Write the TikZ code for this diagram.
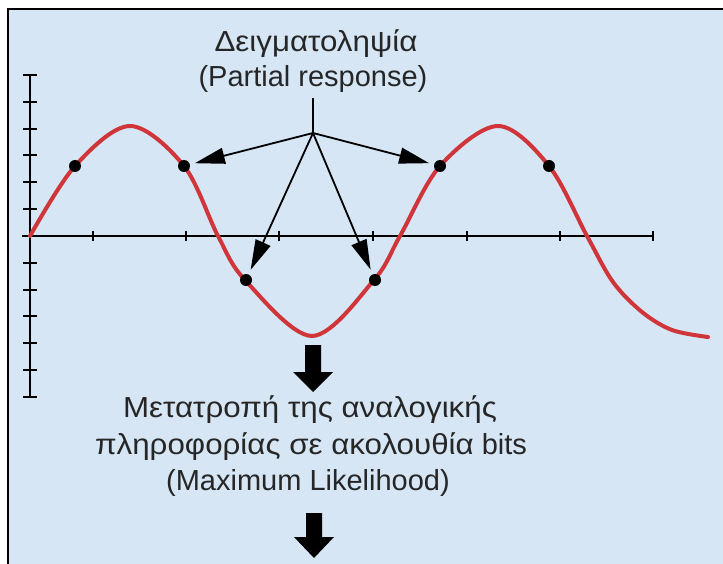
\documentclass[tikz,border=0pt]{standalone}
\usepackage{fontspec}
\setmainfont{Liberation Sans}
\newfontfamily\grk[FakeStretch=1.08]{Liberation Sans}
\usetikzlibrary{arrows.meta}
\definecolor{bgblue}{HTML}{D6E6F5}
\definecolor{curvered}{HTML}{D0353A}
\tikzset{
  axisline/.style={line width=2.4pt, black},
  tickmark/.style={line width=2pt, black},
  sinecurve/.style={line width=4pt, curvered, line cap=round},
  sampledot/.style={circle, fill=black, inner sep=0pt, minimum size=12pt},
  pointer/.style={line width=1.8pt, -{Triangle[length=30pt,width=16pt]}, shorten >=5pt},
  blockarrow/.style={fill=black, draw=none},
  label/.style={align=center, font=\fontsize{29}{36}\selectfont, text=black!85, inner sep=0pt}
}
\begin{document}
\begin{tikzpicture}[x=1pt,y=-1pt]
\useasboundingbox (0,0) rectangle (723,564);
\clip (0,0) rectangle (723,564);
\fill[white] (0,0) rectangle (723,564);
\draw[line width=1.6pt, fill=bgblue] (8,9) rectangle (740,580);

% axes
\draw[axisline] (30,75) -- (30,397);
\foreach \k in {0,...,12}{
  \draw[tickmark] (23,75+26.833*\k) -- (37,75+26.833*\k);
}
\draw[axisline] (22,236) -- (653,236);
\foreach \x in {93,186,279,373,467,560,653}{
  \draw[tickmark] (\x,231) -- (\x,241);
}

% curve
\draw[sinecurve] plot[smooth, tension=0.55] coordinates {
 (30,236) (75,166) (130,126) (184,166) (218,236) (245,280) (312,336)
 (374,280) (400,236) (440,166) (498,126) (549,166) (587,236) (613,282)
 (642,312) (672,330) (708,337)};

% sample dots
\node[sampledot] (d1) at (75,166) {};
\node[sampledot] (d2) at (184,166) {};
\node[sampledot] (d3) at (246,280) {};
\node[sampledot] (d4) at (375,280) {};
\node[sampledot] (d5) at (440,166) {};
\node[sampledot] (d6) at (549,166) {};

% title
\node[label, anchor=base] (t1) at (316,52) {\grk Δειγματοληψία};
\node[label, anchor=base] (t2) at (313,87) {(Partial response)};

\coordinate (apex) at (313,133);
\coordinate (stem) at (313,98);
\draw[line width=1.8pt] (stem) -- (apex);
\draw[pointer] (apex) -- (d2);
\draw[pointer] (apex) -- (d5);
\draw[pointer] (apex) -- (d3);
\draw[pointer] (apex) -- (d4);

% block arrows
\fill[blockarrow] (305,345) -- (321,345) -- (321,372) -- (333,372) -- (313,392) -- (293,372) -- (305,372) -- cycle;
\fill[blockarrow] (306,513) -- (322,513) -- (322,537) -- (334,537) -- (314,558) -- (294,537) -- (306,537) -- cycle;

% bottom text
\node[label, anchor=base] (b1) at (310,417) {\grk Μετατροπή της αναλογικής};
\node[label, anchor=base] (b2) at (311,454) {{\grk πληροφορίας σε ακολουθία} bits};
\node[label, anchor=base] (b3) at (308,490) {(Maximum Likelihood)};
\end{tikzpicture}
\end{document}
